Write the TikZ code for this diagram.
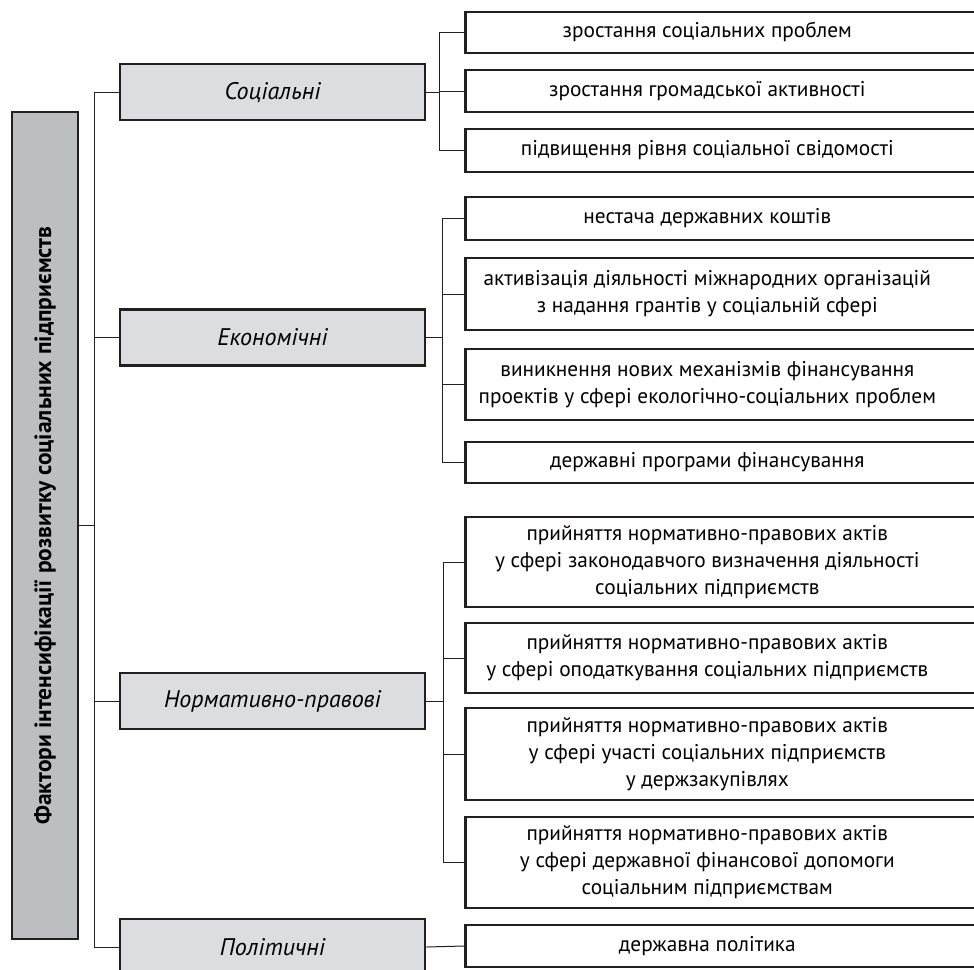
\documentclass[tikz,border=0pt]{standalone}
\usepackage{fontspec}
\setmainfont{PT Sans}
\usepackage{tikz}
\usetikzlibrary{positioning}

\definecolor{rootgray}{RGB}{189,190,192}
\definecolor{catgray}{RGB}{220,221,222}
\definecolor{edgeblack}{RGB}{35,31,32}

% item text, shifted a little to the left inside the (cut) box
\newcommand{\itm}[1]{\begin{tabular}{@{}c@{}}#1\end{tabular}\hspace*{42pt}}

\begin{document}
\begin{tikzpicture}[
    x=1pt, y=-1pt,
    rootbox/.style={draw=edgeblack,fill=rootgray,line width=2.6pt,minimum width=66pt,minimum height=827pt,inner sep=0pt,font=\fontsize{23.5}{27}\selectfont\bfseries},
    catbox/.style={draw=edgeblack,fill=catgray,line width=2.6pt,minimum width=305pt,minimum height=56pt,inner sep=0pt,font=\fontsize{24}{28}\selectfont\itshape},
    itembox/.style={draw=edgeblack,fill=white,line width=2.6pt,anchor=west,minimum width=526pt,inner sep=0pt,font=\fontsize{21.3}{27}\selectfont},
    link/.style={draw=edgeblack,line width=1pt}
]
    \useasboundingbox (0,0) rectangle (974,969);
    \clip (0,0) rectangle (974,969);

    % root and the four groups
    \node[rootbox] (root) at (45,525.5) {\rotatebox{90}{Фактори інтенсифікації розвитку соціальних підприємств}};
    \node[catbox] (soc)  at (272.5,92)    {Соціальні};
    \node[catbox] (eco)  at (272.5,337.5) {Економічні};
    \node[catbox] (norm) at (272.5,701)   {Нормативно-правові};
    \node[catbox] (pol)  at (272.5,947)   {Політичні};

    % social
    \node[itembox,minimum height=41pt] (s1) at (464,32.5)  {\itm{зростання соціальних проблем}};
    \node[itembox,minimum height=42pt] (s2) at (464,91)    {\itm{зростання громадської активності}};
    \node[itembox,minimum height=43pt] (s3) at (464,150.5) {\itm{підвищення рівня соціальної свідомості}};

    % economic
    \node[itembox,minimum height=43pt] (e1) at (464,218.5) {\itm{нестача державних коштів}};
    \node[itembox,minimum height=72pt] (e2) at (464,294)   {\itm{активізація діяльності міжнародних організацій\\з надання грантів у соціальній сфері}};
    \node[itembox,minimum height=71pt] (e3) at (464,384.5) {\itm{виникнення нових механізмів фінансування\\проектів у сфері екологічно-соціальних проблем}};
    \node[itembox,minimum height=41pt] (e4) at (464,462.5) {\itm{державні програми фінансування}};

    % legal
    \node[itembox,minimum height=90pt] (n1) at (464,562)   {\itm{прийняття нормативно-правових актів\\у сфері законодавчого визначення діяльності\\соціальних підприємств}};
    \node[itembox,minimum height=70pt] (n2) at (464,658)   {\itm{прийняття нормативно-правових актів\\у сфері оподаткування соціальних підприємств}};
    \node[itembox,minimum height=92pt] (n3) at (464,754)   {\itm{прийняття нормативно-правових актів\\у сфері участі соціальних підприємств\\у держзакупівлях}};
    \node[itembox,minimum height=91pt] (n4) at (464,862.5) {\itm{прийняття нормативно-правових актів\\у сфері державної фінансової допомоги\\соціальним підприємствам}};

    % political
    \node[itembox,minimum height=42pt] (p1) at (464,946)   {\itm{державна політика}};

    % connectors
    \foreach \c in {soc,eco,norm,pol}
        \draw[link] (\c.west) -- ++(-24,0) |- (root.east);
    \foreach \i in {s1,s2,s3}
        \draw[link] (\i.west) -- ++(-25,0) |- (soc.east);
    \foreach \i in {e1,e2,e3,e4}
        \draw[link] (\i.west) -- ++(-22,0) |- (eco.east);
    \foreach \i in {n1,n2,n3,n4}
        \draw[link] (\i.west) -- ++(-21,0) |- (norm.east);
    \draw[link] (pol.east) -- (p1.west);
\end{tikzpicture}
\end{document}
